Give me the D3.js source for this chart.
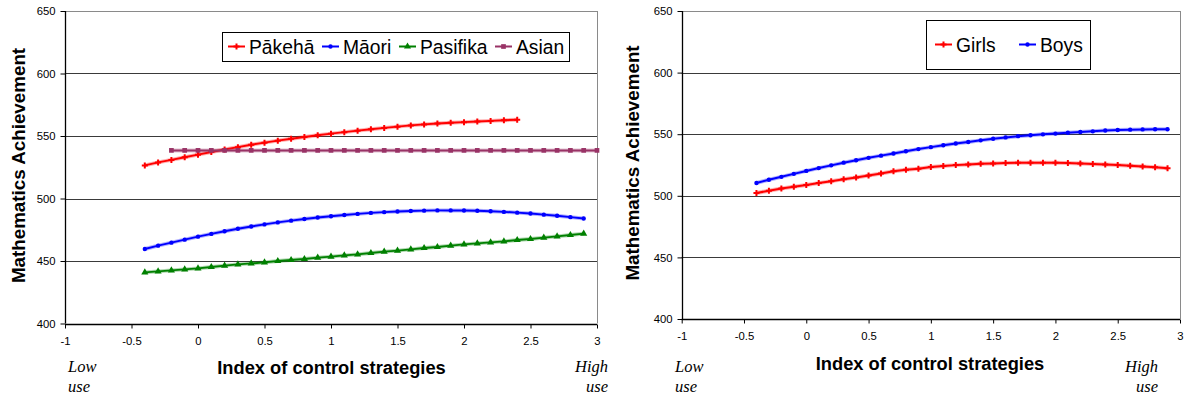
<!DOCTYPE html>
<html>
<head>
<meta charset="utf-8">
<script src="https://cdn.jsdelivr.net/npm/d3@7"></script>
<style>
  html, body { margin: 0; padding: 0; background: #fff; }
  svg { display: block; font-family: "Liberation Sans", Arial, sans-serif; }
</style>
</head>
<body>
<svg id="chart" width="1184" height="396"></svg>
<script>
// ---------- data ----------
const indexValues = [-0.4,-0.3,-0.2,-0.1,0,0.1,0.2,0.3,0.4,0.5,0.6,0.7,0.8,0.9,1.0,1.1,1.2,1.3,1.4,1.5,1.6,1.7,1.8,1.9,2.0,2.1,2.2,2.3,2.4,2.5,2.6,2.7,2.8,2.9];
const asianIndex = [-0.2,-0.1,0,0.1,0.2,0.3,0.4,0.5,0.6,0.7,0.8,0.9,1.0,1.1,1.2,1.3,1.4,1.5,1.6,1.7,1.8,1.9,2.0,2.1,2.2,2.3,2.4,2.5,2.6,2.7,2.8,2.9,3.0];

const pakeha = [526.5,528.9,530.9,533.0,535.1,537.2,539.2,541.1,543.0,544.7,546.3,547.8,549.2,550.6,551.9,553.1,554.3,555.4,556.5,557.5,558.5,559.3,560.0,560.6,561.1,561.6,562.1,562.6,563.0];
const maori = [459.6,462.3,464.7,467.1,469.5,471.7,473.8,475.8,477.6,479.3,480.9,482.3,483.6,484.8,485.8,486.8,487.7,488.5,489.1,489.6,490.0,490.3,490.5,490.5,490.4,490.2,489.8,489.3,488.7,488.0,487.1,486.2,485.1,484.0];
const pasifika = [440.9,441.7,442.5,443.3,444.1,445.2,446.3,447.3,448.1,448.9,450.0,450.8,451.6,452.7,453.5,454.5,455.3,456.4,457.5,458.3,459.3,460.4,461.2,462.3,463.3,464.1,464.9,465.7,466.8,467.6,468.7,469.7,470.8,471.9];
const asian = [538.5,538.5,538.5,538.5,538.5,538.5,538.5,538.5,538.5,538.5,538.5,538.5,538.5,538.5,538.5,538.5,538.5,538.5,538.5,538.5,538.5,538.5,538.5,538.5,538.5,538.5,538.5,538.5,538.5,538.5,538.5,538.5,538.5];

const girls = [502.3,504.1,505.9,507.3,508.7,510.3,511.9,513.4,514.9,516.4,518.1,519.9,521.1,522.0,523.3,524.1,524.9,525.5,526.0,526.3,526.6,526.8,526.9,526.9,526.8,526.6,526.3,525.9,525.5,525.0,524.4,523.8,523.1,522.4];
const boys = [510.4,513.0,515.4,517.8,520.2,522.5,524.7,526.9,528.9,530.8,532.6,534.3,536.2,537.9,539.5,541.0,542.5,543.7,545.0,546.3,547.4,548.4,549.1,549.9,550.5,551.2,551.8,552.3,553.0,553.4,553.7,553.9,554.0,554.0];

const xTicks = [-1,-0.5,0,0.5,1,1.5,2,2.5,3];
const yTicks = [400,450,500,550,600,650];
const xTitle = "Index of control strategies";
const yTitle = "Mathematics Achievement";
const lowLabel = ["Low","use"];
const highLabel = ["High","use"];

// ---------- drawing ----------
const svg = d3.select("#chart");
const sans = '"Liberation Sans", Arial, sans-serif';
const serif = '"Liberation Serif", "Times New Roman", serif';

const styles = {
  "Pākehā":  {color:"#ff0000", symbol:d3.symbolCross,    size:20},
  "Māori":   {color:"#0000ff", symbol:d3.symbolCircle,   size:15},
  "Pasifika":{color:"#008000", symbol:d3.symbolTriangle, size:22},
  "Asian":   {color:"#993366", symbol:d3.symbolSquare,   size:22},
  "Girls":   {color:"#ff0000", symbol:d3.symbolCross,    size:20},
  "Boys":    {color:"#0000ff", symbol:d3.symbolCircle,   size:15}
};

function drawChart(cfg) {
  const g = svg.append("g");
  const x = d3.scaleLinear().domain([-1,3]).range([cfg.left, cfg.right]);
  const y = d3.scaleLinear().domain([400,650]).range([cfg.bottom, cfg.top]);

  // gridlines
  g.selectAll("line.grid").data(yTicks.filter(v => v > 400)).enter().append("line")
    .attr("x1", cfg.left).attr("x2", cfg.right)
    .attr("y1", d => Math.round(y(d)) + 0.5).attr("y2", d => Math.round(y(d)) + 0.5)
    .attr("stroke", d => d === 650 ? "#8a8a8a" : "#3a3a3a").attr("stroke-width", 1);
  // right border
  g.append("line").attr("x1", Math.round(cfg.right)+0.5).attr("x2", Math.round(cfg.right)+0.5)
    .attr("y1", cfg.top).attr("y2", cfg.bottom).attr("stroke", "#8a8a8a");

  // axes
  const yAxis = d3.axisLeft(y).tickValues(yTicks).tickSize(5).tickPadding(5).tickFormat(d3.format("d"));
  const ga = g.append("g").attr("transform", `translate(${Math.round(cfg.left)+0.5},0)`).call(yAxis);
  const xAxis = d3.axisBottom(x).tickValues(xTicks).tickSize(4).tickPadding(cfg.xPad).tickFormat(d => String(d));
  const gx = g.append("g").attr("transform", `translate(0,${Math.round(cfg.bottom)+0.5})`).call(xAxis);
  [ga, gx].forEach(a => {
    a.select(".domain").attr("stroke", "#000").attr("stroke-width", 1.3);
    a.selectAll(".tick line").attr("stroke", "#000");
    a.selectAll(".tick text").attr("font-size", 11.3).attr("fill", "#000")
      .style("font-family", sans);
  });
  gx.select(".domain").attr("d", `M${cfg.left},0H${cfg.right}`);
  ga.select(".domain").attr("d", `M0,${cfg.top}V${cfg.bottom}`);

  // series
  cfg.series.forEach(s => {
    const st = styles[s.name];
    const pts = s.values.map((v, i) => [s.xs[i], v]);
    const line = d3.line().x(d => x(d[0])).y(d => y(d[1]));
    g.append("path").attr("d", line(pts)).attr("fill", "none")
      .attr("stroke", st.color).attr("stroke-opacity", 0.3).attr("stroke-width", 4);
    g.append("path").attr("d", line(pts)).attr("fill", "none")
      .attr("stroke", st.color).attr("stroke-width", 2);
    g.selectAll(null).data(pts).enter().append("path")
      .attr("d", d3.symbol().type(st.symbol).size(st.size))
      .attr("transform", d => `translate(${x(d[0])},${y(d[1])})`)
      .attr("fill", st.color);
  });

  // titles
  g.append("text").attr("x", cfg.xTitleX).attr("y", cfg.xTitleY)
    .attr("text-anchor", "middle").attr("font-weight", "bold").attr("font-size", 18.3)
    .style("font-family", sans).text(xTitle);
  g.append("text").attr("transform", `translate(${cfg.yTitleX},${cfg.yTitleY}) rotate(-90)`)
    .attr("text-anchor", "middle").attr("font-weight", "bold").attr("font-size", 18.8)
    .style("font-family", sans).text(yTitle);

  // low / high use
  lowLabel.forEach((t, i) => {
    g.append("text").attr("x", cfg.lowX).attr("y", 372 + i * 19.5)
      .style("font-family", serif).style("font-style", "italic").attr("font-size", 16.5).text(t);
  });
  highLabel.forEach((t, i) => {
    g.append("text").attr("x", cfg.highX).attr("y", 372 + i * 19.5).attr("text-anchor", "end")
      .style("font-family", serif).style("font-style", "italic").attr("font-size", 16.5).text(t);
  });

  // legend
  const lg = g.append("g");
  lg.append("rect").attr("x", cfg.legend.x + 0.5).attr("y", cfg.legend.y + 0.5)
    .attr("width", cfg.legend.w).attr("height", cfg.legend.h)
    .attr("fill", "#fff").attr("stroke", "#000").attr("stroke-width", 1);
  cfg.series.forEach((s, i) => {
    const st = styles[s.name];
    const lx = cfg.legend.items[i];
    const ly = cfg.legend.y + cfg.legend.h / 2;
    lg.append("line").attr("x1", lx).attr("x2", lx + 17).attr("y1", ly).attr("y2", ly)
      .attr("stroke", st.color).attr("stroke-width", 2);
    lg.append("path").attr("d", d3.symbol().type(st.symbol).size(st.size))
      .attr("transform", `translate(${lx + 8.5},${ly})`).attr("fill", st.color);
    lg.append("text").attr("x", lx + 21).attr("y", ly + 7)
      .attr("font-size", 19.3).style("font-family", sans).text(s.name);
  });
}

drawChart({
  left: 65, right: 597, top: 11, bottom: 323.5, xPad: 8,
  xTitleX: 331.5, xTitleY: 374, yTitleX: 25, yTitleY: 165.5,
  lowX: 68, highX: 608,
  legend: {x: 222, y: 32, w: 347, h: 29, items: [228, 322, 399, 495]},
  series: [
    {name: "Pākehā", xs: indexValues, values: pakeha},
    {name: "Māori", xs: indexValues, values: maori},
    {name: "Pasifika", xs: indexValues, values: pasifika},
    {name: "Asian", xs: asianIndex, values: asian}
  ]
});

drawChart({
  left: 681.7, right: 1180, top: 11, bottom: 319, xPad: 8,
  xTitleX: 930, xTitleY: 370, yTitleX: 639, yTitleY: 163,
  lowX: 675, highX: 1158,
  legend: {x: 926, y: 20, w: 164, h: 49, items: [935, 1019]},
  series: [
    {name: "Girls", xs: indexValues, values: girls},
    {name: "Boys", xs: indexValues, values: boys}
  ]
});
</script>
</body>
</html>
